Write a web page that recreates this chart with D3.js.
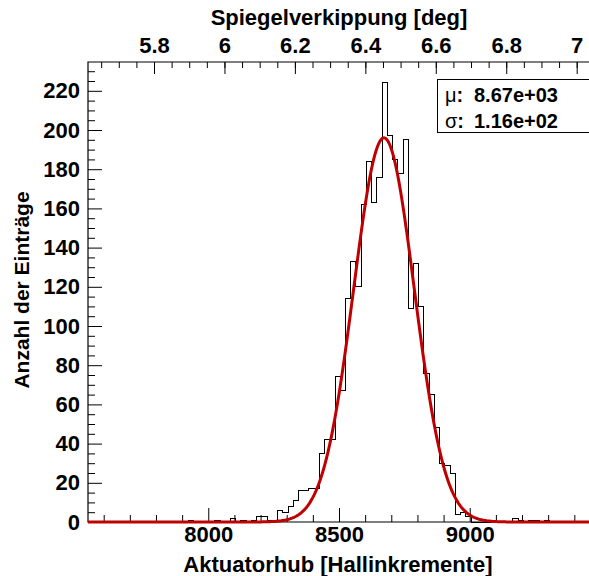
<!DOCTYPE html>
<html>
<head>
<meta charset="utf-8">
<script src="https://cdn.jsdelivr.net/npm/d3@7"></script>
<style>
  body { margin: 0; background: #fff; }
  svg text { font-family: "Liberation Sans", Arial, sans-serif; font-weight: bold; }
</style>
</head>
<body>
<div id="chart"></div>
<script>
// histogram: 96 bins of 20 increments starting at 7545
const binStart = 7545;
const binWidth = 20;
const counts = [
  0, 0, 0, 0, 0, 0, 0, 0, 0, 0,
  0, 0, 0, 0, 0, 0, 0, 0, 0, 1,
  0, 0, 0, 0, 1, 0, 0, 2, 0, 1,
  0, 1, 3, 3, 1, 1, 6, 5, 8, 11,
  16, 16, 17, 17, 35, 42, 42, 74, 67, 114,
  133, 120, 162, 184, 163, 176, 224, 197, 185, 178,
  195, 109, 132, 110, 76, 65, 48, 30, 29, 25,
  4, 5, 3, 0, 0, 0, 0, 0, 0, 0,
  0, 2, 1, 0, 1, 1, 0, 1, 0, 0,
  0, 0, 0, 0, 0, 0
];

// Gaussian fit parameters
const fitMean = 8672;
const fitSigma = 116;
const fitAmp = 196;

// axes
const xRange = [7540, 9460];
const degRange = [5.6126, 7.0378];
const yRange = [0, 234.7];
const xMajor = [8000, 8500, 9000];
const degMajor = [5.8, 6, 6.2, 6.4, 6.6, 6.8, 7];
const yMajor = [0, 20, 40, 60, 80, 100, 120, 140, 160, 180, 200, 220];

const legendRows = [
  { sym: "\u03bc", text: "8.67e+03" },
  { sym: "\u03c3", text: "1.16e+02" }
];

const W = 589, H = 576;
const pLeft = 88, pTop = 62, pRight = 590, pBottom = 522;

const svg = d3.select('#chart').append('svg')
  .attr('width', W).attr('height', H);

svg.append('rect').attr('width', W).attr('height', H).attr('fill', '#fff');

const x = d3.scaleLinear().domain(xRange).range([pLeft, pRight]);
const xDeg = d3.scaleLinear().domain(degRange).range([pLeft, pRight]);
const y = d3.scaleLinear().domain(yRange).range([pBottom, pTop]);

svg.append('defs').append('clipPath').attr('id', 'clip')
  .append('rect').attr('x', pLeft).attr('y', pTop - 2)
  .attr('width', pRight - pLeft).attr('height', pBottom - pTop + 4);

// minor tick values
const xMinor = d3.range(7600, 9460, 100).filter(v => !xMajor.includes(v));
const degMinor = d3.range(0, 29).map(i => 5.65 + i * 0.05).filter(v => v < 7.03);
const yMinor = d3.range(5, 235, 5).filter(v => v % 20 !== 0);

function styleAxis(g) {
  g.select('.domain').remove();
  g.selectAll('line').attr('stroke', '#000').attr('stroke-width', 1);
  g.selectAll('text').attr('fill', '#000').attr('font-size', 22);
}

// bottom axis
svg.append('g').attr('transform', `translate(0,${pBottom})`)
  .call(d3.axisBottom(x).tickValues(xMinor).tickSize(-7).tickFormat(''))
  .call(styleAxis);
svg.append('g').attr('transform', `translate(0,${pBottom})`)
  .call(d3.axisBottom(x).tickValues(xMajor).tickSize(-14).tickPadding(4).tickFormat(d3.format('d')))
  .call(styleAxis);

// top axis
svg.append('g').attr('transform', `translate(0,${pTop})`)
  .call(d3.axisTop(xDeg).tickValues(degMinor).tickSize(-6).tickFormat(''))
  .call(styleAxis);
svg.append('g').attr('transform', `translate(0,${pTop})`)
  .call(d3.axisTop(xDeg).tickValues(degMajor).tickSize(-12).tickPadding(9).tickFormat(d => d3.format('~g')(d)))
  .call(styleAxis);

// left axis
svg.append('g').attr('transform', `translate(${pLeft},0)`)
  .call(d3.axisLeft(y).tickValues(yMinor).tickSize(-7).tickFormat(''))
  .call(styleAxis);
svg.append('g').attr('transform', `translate(${pLeft},0)`)
  .call(d3.axisLeft(y).tickValues(yMajor).tickSize(-14).tickPadding(8))
  .call(styleAxis);

// frame
svg.append('path')
  .attr('d', `M${pRight},${pTop}H${pLeft}V${pBottom}H${pRight}`)
  .attr('fill', 'none').attr('stroke', '#000').attr('stroke-width', 1.2);

// histogram outline
const plot = svg.append('g').attr('clip-path', 'url(#clip)');
const bins = counts.map((c, i) => ({ lo: binStart + i * binWidth, hi: binStart + (i + 1) * binWidth, c }));
let d = `M${x(bins[0].lo)},${y(0)}`;
bins.forEach(b => { d += `L${x(b.lo)},${y(b.c)}L${x(b.hi)},${y(b.c)}`; });
d += `L${x(bins[bins.length - 1].hi)},${y(0)}`;
plot.append('path').attr('d', d)
  .attr('fill', 'none').attr('stroke', '#000').attr('stroke-width', 1)
  .attr('shape-rendering', 'crispEdges');

// fit curve
const fitX = d3.range(xRange[0], xRange[1] + 1, 4);
const line = d3.line()
  .x(v => x(v))
  .y(v => y(fitAmp * Math.exp(-0.5 * ((v - fitMean) / fitSigma) ** 2)));
plot.append('path').datum(fitX).attr('d', line)
  .attr('fill', 'none').attr('stroke', '#c00000').attr('stroke-width', 3);

// legend box
const lg = svg.append('g');
lg.append('rect').attr('x', 437.5).attr('y', 79.5).attr('width', 160).attr('height', 53)
  .attr('fill', '#fff').attr('stroke', '#000').attr('stroke-width', 1);
legendRows.forEach((r, i) => {
  const t = lg.append('text').attr('x', 445).attr('y', 102 + i * 26).attr('font-size', 20).attr('fill', '#000');
  t.append('tspan').attr('font-weight', 'normal').text(r.sym);
  t.append('tspan').text(':');
  t.append('tspan').attr('x', 474).text(r.text);
});

// axis titles
svg.append('text').attr('x', 338).attr('y', 572).attr('text-anchor', 'middle')
  .attr('font-size', 22).text('Aktuatorhub [Hallinkremente]');
svg.append('text').attr('x', 339).attr('y', 25).attr('text-anchor', 'middle')
  .attr('font-size', 22).text('Spiegelverkippung [deg]');
svg.append('text').attr('transform', 'translate(29,290) rotate(-90)').attr('text-anchor', 'middle')
  .attr('font-size', 21).text('Anzahl der Einträge');
</script>
</body>
</html>
